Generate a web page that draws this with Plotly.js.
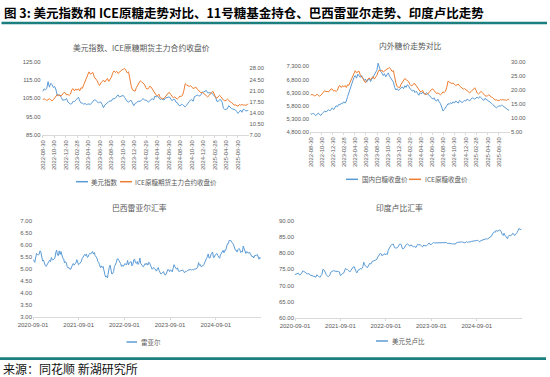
<!DOCTYPE html>
<html><head><meta charset="utf-8">
<script src="https://cdn.plot.ly/plotly-3.0.1.min.js"></script>
<style>html,body{margin:0;padding:0;background:#fff;}#chart{width:550px;height:377px;}</style>
</head><body><div id="chart"></div>
<script>
// ---------- DATA ----------
const startA = '2022-08-30';   // weekly series start (top charts)
const dollarIndex = [
108.8,110.2,109.6,110.5,114.1,111.1,113.2,112.5,110.9,111.5,
109.6,106.4,107.1,106.6,105.5,104.0,104.1,104.2,104.9,103.0,
102.4,101.9,102.1,103.4,103.2,104.2,104.9,105.6,103.6,102.5,
102.4,101.8,102.2,101.7,101.8,102.0,101.6,102.6,103.5,104.2,
104.1,103.3,102.5,102.9,103.0,101.7,99.9,101.3,102.1,102.5,
103.2,103.6,103.5,104.8,104.7,105.1,106.2,106.9,105.8,106.2,
106.3,106.6,105.5,104.1,103.4,102.8,103.7,103.9,102.2,101.0,
102.2,102.5,103.4,103.3,103.4,104.2,104.9,104.2,104.0,103.8,
102.9,103.8,104.3,104.8,104.1,106.2,105.8,106.3,105.4,104.4,
104.7,104.6,104.1,105.2,105.2,105.6,105.8,105.0,103.7,104.4,
104.5,102.9,102.6,101.4,100.9,101.6,101.6,100.9,100.4,101.2,
102.5,103.2,104.1,104.3,103.4,106.0,106.2,106.9,106.4,106.4,
107.0,108.2,108.5,108.7,109.3,108.0,107.9,108.0,108.0,107.1,
106.4,105.7,103.4,103.3,104.2,104.2,102.9,99.6,98.9,99.2,
99.3,101.0,100.0,99.5,99.2,99.1,98.7,97.9,96.8,97.5,
98.6,97.4,99.0,98.8,98.1,98.3,98.4];
const iceRawSugar = [
18.2,18.4,18.2,17.9,18.1,18.5,18.0,17.8,18.1,18.7,
19.3,19.8,19.4,19.5,19.3,20.0,20.4,20.3,19.6,19.8,
19.5,19.9,21.3,21.6,20.9,21.5,21.1,21.6,20.9,21.9,
21.7,22.8,23.8,24.8,25.6,26.9,26.2,26.5,26.7,25.3,
24.9,24.2,23.3,22.6,23.4,24.0,24.3,23.7,24.4,24.8,
23.9,24.6,25.2,26.5,27.2,26.7,27.1,26.4,26.8,27.3,
27.5,27.7,28.0,27.4,26.6,26.9,24.4,22.5,21.2,20.9,
20.8,22.0,22.6,23.6,24.1,23.7,23.4,23.0,22.0,21.5,
21.6,22.3,22.2,21.5,20.5,19.8,19.5,19.4,19.9,18.8,
18.5,18.4,18.6,19.3,19.6,20.2,20.4,19.8,19.3,18.7,
19.0,18.5,18.3,18.7,19.3,19.1,19.6,21.0,23.2,22.8,
22.6,22.3,22.5,22.2,21.6,21.8,22.1,21.5,21.0,20.8,
20.3,20.5,20.1,19.6,19.3,19.0,19.4,20.0,20.6,20.8,
19.9,18.9,18.6,19.2,19.5,19.1,18.4,18.0,17.8,17.9,
18.3,17.8,17.5,17.3,16.9,16.4,16.5,16.3,16.1,16.6,
16.4,16.6,16.4,16.5,16.3,16.6,16.8];
const domesticWhiteSugar = [
5500,5470,5520,5450,5420,5480,5520,5460,5430,5500,
5540,5600,5560,5620,5650,5600,5680,5720,5650,5720,
5800,5760,5850,5830,5900,5880,5950,5900,5980,6150,
6300,6500,6650,6800,6880,6950,6850,7000,6920,6880,
6950,6850,6760,6820,6700,6780,6850,6720,6800,6900,
7000,7080,7150,7420,7280,7100,7050,6950,7020,6900,
6980,7050,6920,6860,6780,6700,6500,6400,6450,6380,
6420,6480,6520,6450,6560,6500,6600,6550,6450,6420,
6350,6400,6300,6350,6280,6200,6300,6250,6320,6280,
6220,6300,6250,6180,6150,6080,6050,6100,6000,5980,
6050,5950,5880,5750,5600,5650,5750,5800,5880,5850,
5920,5880,5950,5900,5980,5950,5900,6000,5950,5920,
5960,6000,5980,6050,6020,5980,6050,6100,6080,6050,
6100,6120,6080,6150,6100,6050,6000,6080,6050,6000,
5980,5950,5900,5850,5800,5780,5720,5750,5800,5780,
5820,5800,5760,5700,5680,5650,5620];
const startB = '2020-09-01';   // weekly series start (bottom charts)
const usdBrl = [
5.37,5.35,5.27,5.55,5.64, 5.60,5.58,5.60,5.75, 5.70,5.37,5.32,5.36, 5.20,5.14,5.10,5.18,5.19,
5.32,5.36,5.30,5.47, 5.38,5.37,5.41,5.45, 5.68,5.78,5.57,5.55,5.75, 5.60,5.72,5.52,5.44, 5.42,5.24,5.30,5.25, 5.10,5.03,5.05,4.98,4.98, 5.10,5.15,5.22,5.15, 5.21,5.24,5.38,5.28,5.17, 5.20,5.25,5.30,5.42, 5.50,5.52,5.60,5.55, 5.62,5.48,5.50,5.60,5.65, 5.62,5.70,5.72,5.62,
5.68,5.55,5.52,5.45, 5.30,5.27,5.16,5.05, 5.12,5.05,5.10,4.85,4.76, 4.65,4.70,4.62,4.95, 5.05,5.15,4.98,4.78,4.80, 4.88,5.10,5.15,5.25, 5.40,5.42,5.35,5.30, 5.22,5.10,5.16,5.10,5.20, 5.22,5.17,5.18,5.35, 5.16,5.25,5.28,5.30, 5.12,5.18,5.38,5.40,5.25, 5.22,5.30,5.18,5.25,
5.45,5.22,5.15,5.12,5.08, 5.20,5.22,5.17,5.23, 5.15,5.27,5.25,5.15, 5.06,4.98,5.03,5.05, 5.00,4.97,4.90,5.00,5.05, 4.92,4.87,4.78,4.80, 4.85,4.88,4.78,4.73, 4.78,4.90,4.97,4.95,4.88, 4.96,4.92,4.87,5.02, 5.17,5.08,5.05,4.98,5.04, 4.90,4.89,4.90,4.92, 4.95,4.95,4.88,4.83,
4.90,4.88,4.92,4.93,4.95, 4.97,4.98,4.94,4.97, 4.95,4.98,5.00,4.98, 5.05,5.07,5.26,5.15,5.18, 5.08,5.12,5.12,5.17, 5.28,5.37,5.43,5.50, 5.62,5.45,5.45,5.58,5.65, 5.70,5.47,5.48,5.58, 5.63,5.64,5.55,5.45, 5.44,5.58,5.65,5.70,5.77, 5.67,5.78,5.77,5.90, 6.05,6.05,6.19,6.18,6.18,
6.10,6.07,6.00,5.88, 5.78,5.78,5.70,5.80, 5.85,5.82,5.68,5.72, 5.70,5.95,5.85,5.73,5.64, 5.72,5.67,5.65,5.70, 5.65,5.57,5.50,5.53, 5.45,5.55,5.55,5.56,5.60, 5.52,5.40,5.48,5.43];
const usdInr = [
73.4,73.5,73.6,73.6,73.8, 73.3,73.3,73.6,73.9, 74.5,74.4,74.2,73.9, 73.6,73.6,73.6,73.7,73.3,
73.2,73.3,73.1,73.0, 72.9,72.8,72.6,73.3, 73.2,72.9,72.6,72.6,73.1, 73.5,75.0,74.9,74.5, 73.5,73.3,73.0,72.7, 73.0,73.2,74.1,74.3,74.3, 74.6,74.5,74.5,74.5, 74.3,74.3,74.3,74.2,73.1, 73.2,73.7,73.8,73.9, 74.4,75.3,75.0,75.0, 74.7,74.5,74.2,74.6,75.1, 75.2,75.8,75.8,74.8,
74.4,73.9,74.5,74.9, 74.9,75.3,75.1,75.3, 75.9,77.2,76.4,76.0,75.9, 75.5,76.0,76.3,76.9, 76.6,77.4,77.6,77.6,77.6, 77.8,78.0,78.1,78.8, 79.2,79.6,80.0,79.8, 79.2,79.6,79.5,79.9,79.5, 79.8,79.6,80.9,81.6, 81.9,82.4,82.7,82.7, 82.8,81.9,81.6,81.7,81.6, 81.8,82.5,82.8,82.8,
82.7,81.6,81.3,81.5,81.9, 82.6,82.8,82.9,82.6, 82.4,82.2,82.6,82.3, 82.2,82.0,82.1,81.8, 81.8,82.4,82.8,82.6,82.7, 82.6,82.4,82.0,82.1, 82.6,82.3,82.2,82.3, 82.6,82.8,83.2,82.7,82.7, 82.8,83.1,83.3,83.2, 83.2,83.2,83.2,83.2,83.2, 83.2,83.3,83.3,83.3, 83.4,83.4,83.2,83.2,
83.3,83.0,83.1,83.1,83.0, 82.9,83.0,82.9,82.9, 82.9,82.8,83.2,83.4, 83.4,83.4,83.5,83.4,83.5, 83.5,83.5,83.3,83.2, 83.3,83.6,83.4,83.4, 83.5,83.5,83.6,83.7,83.7, 83.9,83.9,83.9,83.9, 84.0,84.0,83.7,83.5, 83.9,84.0,84.1,84.1,84.2, 84.4,84.4,84.5,84.4, 84.7,84.9,85.0,85.1,85.6,
85.8,86.5,86.6,86.5, 87.1,86.8,86.9,87.2, 87.2,87.1,86.3,85.8, 85.5,86.2,85.6,85.3,85.0, 84.5,85.3,85.6,85.4, 85.5,85.7,86.2,86.0, 85.5,85.8,86.0,86.4,87.0, 87.6,87.6,87.2,87.6];
const tickDatesA = ['2022-08-30','2022-10-30','2022-12-30','2023-02-28','2023-04-30','2023-06-30',
  '2023-08-30','2023-10-30','2023-12-30','2024-02-29','2024-04-30','2024-06-30',
  '2024-08-30','2024-10-30','2024-12-30','2025-02-28','2025-04-30','2025-06-30'];
const tickDatesB = ['2020-09-01','2021-09-01','2022-09-01','2023-09-01','2024-09-01'];
const ticksA1 = [85,95,105,115,125];
const ticksA2 = [7,10.5,14,17.5,21,24.5,28];
const ticksB1 = [4800,5300,5800,6300,6800,7300];
const ticksB2 = [5,10,15,20,25,30];

// ---------- HELPERS ----------
const W = 550, H = 377;
const px = x => x / W, py = y => 1 - y / H;
function weekly(start, n) {
  const t0 = Date.parse(start + 'T00:00:00Z'), out = [];
  for (let i = 0; i < n; i++) out.push(new Date(t0 + i * 7 * 86400000).toISOString().slice(0, 10));
  return out;
}
const datesA = weekly(startA, dollarIndex.length);
const datesB = weekly(startB, usdBrl.length);

const BLUE = '#5b9bd5', ORANGE = '#ed7d31', GRAY = '#595959', TEAL = '#1b7f7f';
const CJK = '"Noto Sans CJK SC", "Noto Sans", sans-serif';
const NUM = '"Liberation Sans", Arial, sans-serif';
const tf = {family: NUM, size: 5.8, color: GRAY};
const tfB = {family: NUM, size: 6, color: GRAY};

const traces = [
  {x: datesA, y: dollarIndex, xaxis: 'x', yaxis: 'y', type: 'scatter', mode: 'lines', line: {color: BLUE, width: 1}},
  {x: datesA, y: iceRawSugar, xaxis: 'x', yaxis: 'y2', type: 'scatter', mode: 'lines', line: {color: ORANGE, width: 1}},
  {x: datesA, y: domesticWhiteSugar, xaxis: 'x2', yaxis: 'y3', type: 'scatter', mode: 'lines', line: {color: BLUE, width: 1}},
  {x: datesA, y: iceRawSugar, xaxis: 'x2', yaxis: 'y4', type: 'scatter', mode: 'lines', line: {color: ORANGE, width: 1}},
  {x: datesB, y: usdBrl, xaxis: 'x3', yaxis: 'y5', type: 'scatter', mode: 'lines', line: {color: BLUE, width: 1}},
  {x: datesB, y: usdInr, xaxis: 'x4', yaxis: 'y6', type: 'scatter', mode: 'lines', line: {color: BLUE, width: 1}}
];

const xBase = {type: 'date', showgrid: false, zeroline: false, showline: true, linecolor: '#d9d9d9', linewidth: 1,
  ticks: 'outside', ticklen: 2, tickcolor: '#d9d9d9', fixedrange: true};
const yBase = {showgrid: false, zeroline: false, showline: false, ticks: '', fixedrange: true, tickformat: '.2f'};

function ann(text, x, y, xanchor, font) {
  return {text, x: px(x), y: py(y), xref: 'paper', yref: 'paper', xanchor, yanchor: 'middle', showarrow: false, font};
}
function seg(x0, x1, y, color, width) {
  return {type: 'line', xref: 'paper', yref: 'paper', x0: px(x0), x1: px(x1), y0: py(y), y1: py(y), line: {color, width}};
}
const titleFont = {family: CJK, size: 7.8, color: GRAY};
const legFont = {family: CJK, size: 6.5, color: GRAY};

const layout = {
  width: W, height: H, margin: {l: 0, r: 0, t: 0, b: 0}, paper_bgcolor: '#fff', plot_bgcolor: '#fff',
  showlegend: false,
  xaxis: Object.assign({}, xBase, {domain: [px(41.5), px(248.5)], anchor: 'y', range: ['2022-08-23', '2025-08-26'],
    tickvals: tickDatesA, ticktext: tickDatesA, tickangle: -90, tickfont: tf}),
  yaxis: Object.assign({}, yBase, {domain: [py(135), py(61.7)], anchor: 'x', range: [85, 125], tickvals: ticksA1, tickfont: tf}),
  yaxis2: Object.assign({}, yBase, {overlaying: 'y', anchor: 'x', side: 'right', range: [7, 30.1], tickvals: ticksA2, tickfont: tf}),
  xaxis2: Object.assign({}, xBase, {domain: [px(310), px(510)], anchor: 'y3', range: ['2022-08-26', '2025-08-31'],
    tickvals: tickDatesA, ticktext: tickDatesA, tickangle: -90, tickfont: tf}),
  yaxis3: Object.assign({}, yBase, {domain: [py(132), py(62)], anchor: 'x2', range: [4800, 7465], tickvals: ticksB1, tickformat: ',.2f', tickfont: tf}),
  yaxis4: Object.assign({}, yBase, {overlaying: 'y3', anchor: 'x2', side: 'right', range: [5, 30], tickvals: ticksB2, tickfont: tf}),
  xaxis3: Object.assign({}, xBase, {domain: [px(33), px(261)], anchor: 'y5', range: ['2020-09-01', '2025-08-28'],
    tickvals: tickDatesB, ticktext: tickDatesB, tickangle: 0, tickfont: tfB}),
  yaxis5: Object.assign({}, yBase, {domain: [py(316.5), py(221)], anchor: 'x3', range: [3, 7], dtick: 0.5, tick0: 3, tickfont: tfB}),
  xaxis4: Object.assign({}, xBase, {domain: [px(295), px(521.7)], anchor: 'y6', range: ['2020-09-01', '2025-08-28'],
    tickvals: tickDatesB, ticktext: tickDatesB, tickangle: 0, tickfont: tfB}),
  yaxis6: Object.assign({}, yBase, {domain: [py(317.7), py(221)], anchor: 'x4', range: [60, 90], dtick: 5, tick0: 60, tickfont: tfB}),
  shapes: [
    {type: 'rect', xref: 'paper', yref: 'paper', x0: px(1.5), x1: px(547), y0: py(24.3), y1: py(21.7), fillcolor: TEAL, line: {width: 0}},
    {type: 'rect', xref: 'paper', yref: 'paper', x0: px(0), x1: px(546), y0: py(360), y1: py(357.3), fillcolor: TEAL, line: {width: 0}},
    seg(76, 88, 181.7, BLUE, 1.5), seg(120, 132, 181.7, ORANGE, 1.5),
    seg(346, 358, 179.3, BLUE, 1.5), seg(409, 421, 179.3, ORANGE, 1.5),
    seg(126.5, 137, 342, BLUE, 1.5),
    seg(376, 388, 341, BLUE, 1.5)
  ],
  annotations: [
    ann('图 3: 美元指数和 ICE原糖走势对比、11号糖基金持仓、巴西雷亚尔走势、印度卢比走势', 1.5, 12.5, 'left',
      {family: CJK, size: 12.5, color: '#000', weight: 700}),
    ann('来源：同花顺 新湖研究所', 0.5, 368.5, 'left', {family: CJK, size: 12, color: '#111'}),
    ann('美元指数、ICE原糖期货主力合约收盘价', 141.5, 47.7, 'center', titleFont),
    ann('内外糖价走势对比', 410.8, 45.7, 'center', titleFont),
    ann('巴西雷亚尔汇率', 139.8, 207.7, 'center', titleFont),
    ann('印度卢比汇率', 399.2, 207.3, 'center', titleFont),
    ann('美元指数', 89, 181.7, 'left', legFont),
    ann('ICE原糖期货主力合约收盘价', 133, 181.7, 'left', legFont),
    ann('国内白糖收盘价', 359.5, 179.3, 'left', legFont),
    ann('ICE原糖收盘价', 422.5, 179.3, 'left', legFont),
    ann('雷亚尔', 138.5, 342, 'left', legFont),
    ann('美元兑卢比', 389.5, 341, 'left', legFont)
  ]
};

Plotly.newPlot('chart', traces, layout, {displayModeBar: false, staticPlot: true});
</script></body></html>
